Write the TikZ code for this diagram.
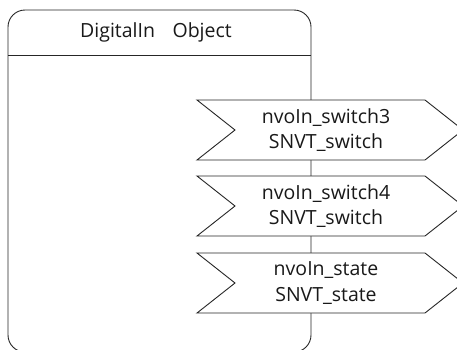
\documentclass[tikz,border=0pt]{standalone}
\usepackage{fontspec}
\setmainfont{Open Sans}
\usetikzlibrary{positioning}

\newcommand\flagleft{197}
\newcommand\flagright{425}
\newcommand\flagdepth{38}
\newcommand\flagheight{60}
\newcommand\ioflag[4]{
  \draw[flagline] (\flagleft, #2) -- (\flagright, #2)
     -- ++ (\flagdepth, \flagheight * 0.5) -- ++ (-\flagdepth, \flagheight * 0.5)
     -- (\flagleft, #2 + \flagheight) -- ++ (\flagdepth, -\flagheight * 0.5) -- cycle ;
  \node[flagtext] (#1) at (326, #2 + \flagheight * 0.5) {#3\\#4} ;
}

\begin{document}
\begin{tikzpicture}[x=1pt, y=-1pt,
    boxline/.style={line width=0.9pt, draw=black!85},
    flagline/.style={boxline, fill=white},
    flagtext/.style={align=center, font=\fontsize{19.5}{25.5}\selectfont, text=black!90}]
  \useasboundingbox (0,0) rectangle (457,349);
  % object box
  \draw[boxline, rounded corners=17] (8,10) rectangle (311,352);
  \draw[boxline] (8,55) -- (311,55);
  \node[flagtext] (title) at (156,32) {DigitalIn\hspace{0.9em}Object};
  % network variables
  \ioflag{switch3}{100}{nvoIn\_switch3}{SNVT\_switch}
  \ioflag{switch4}{176}{nvoIn\_switch4}{SNVT\_switch}
  \ioflag{state}{253}{nvoIn\_state}{SNVT\_state}
\end{tikzpicture}
\end{document}
